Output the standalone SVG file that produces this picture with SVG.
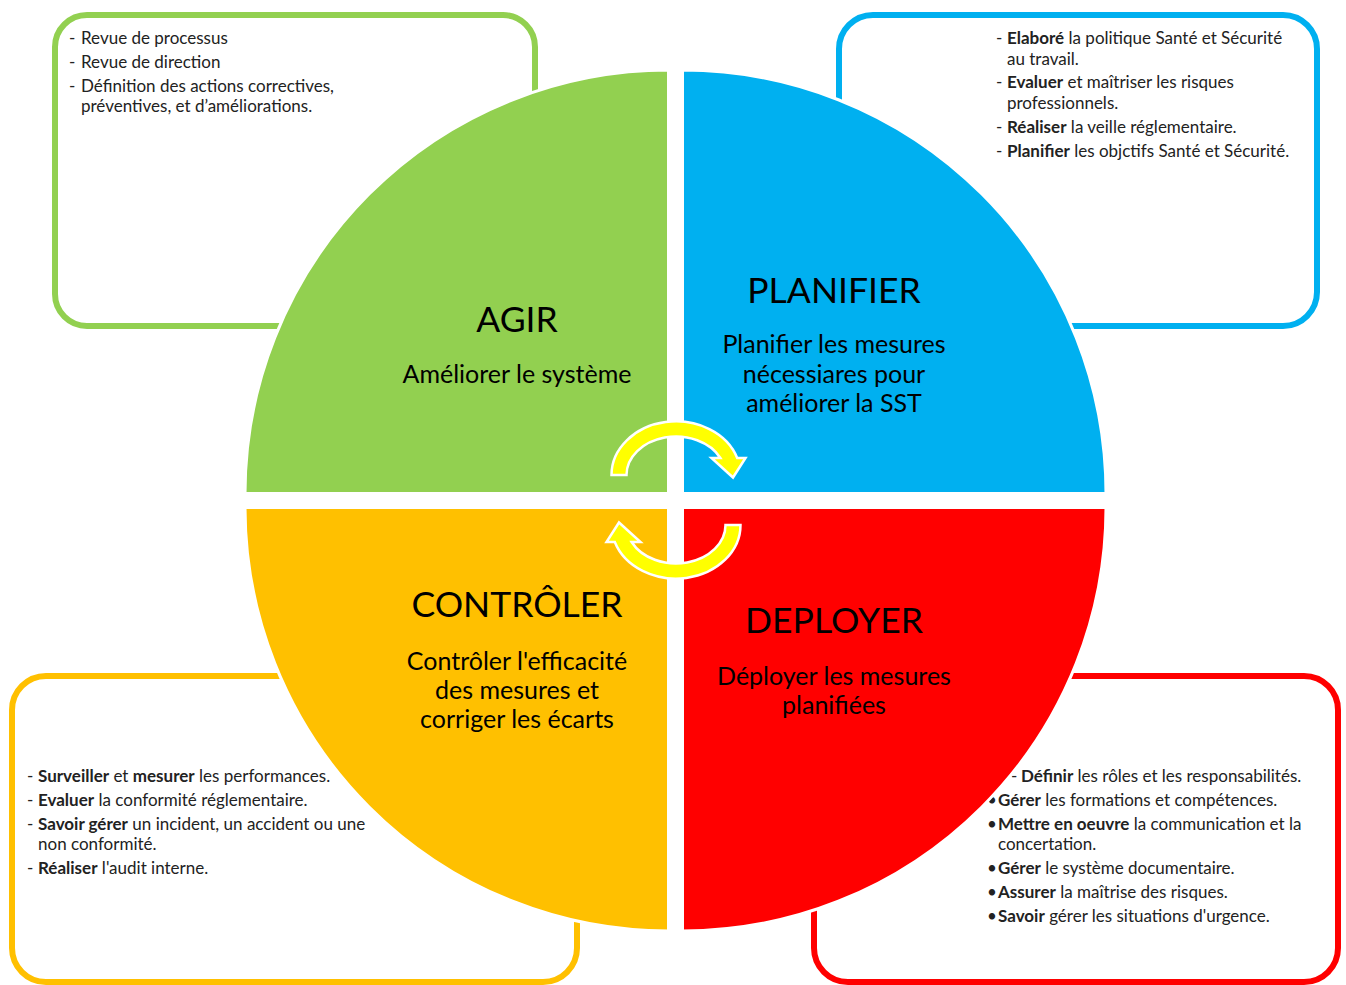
<svg xmlns="http://www.w3.org/2000/svg" width="1346" height="985" viewBox="0 0 1346 985">
<style>
.box{fill:#fff;stroke-width:6}
.bt{font-family:Lato,"Open Sans","Liberation Sans",sans-serif;font-size:17px;fill:#222}
.bt .b{font-weight:bold}
.q{stroke:#fff;stroke-width:3}
.title{font-family:Lato,"Open Sans","Liberation Sans",sans-serif;font-size:35.5px;fill:#000;text-anchor:middle}
.sub{font-family:Lato,"Open Sans","Liberation Sans",sans-serif;font-size:25px;fill:#000;text-anchor:middle}
.arr{fill:#FFFF00;stroke:#fff;stroke-width:2.5;stroke-linejoin:miter}
</style>
<rect width="1346" height="985" fill="#fff"/>

<g id="box-agir">
<rect class="box" x="55" y="15" width="480" height="311" rx="32" stroke="#92D050"/>
<text class="bt"><tspan x="69" y="44">-</tspan><tspan x="81" y="44">Revue de processus</tspan></text>
<text class="bt"><tspan x="69" y="68">-</tspan><tspan x="81" y="68">Revue de direction</tspan></text>
<text class="bt"><tspan x="69" y="92">-</tspan><tspan x="81" y="92">Définition des actions correctives,</tspan><tspan x="81" y="112">préventives, et d’améliorations.</tspan></text>
</g>

<g id="box-planifier">
<rect class="box" x="839" y="15" width="478" height="311" rx="34" stroke="#00B0F0"/>
<text class="bt"><tspan x="996" y="44">-</tspan><tspan x="1007" y="44"><tspan class="b">Elaboré</tspan> la politique Santé et Sécurité</tspan><tspan x="1007" y="65">au travail.</tspan></text>
<text class="bt"><tspan x="996" y="88">-</tspan><tspan x="1007" y="88"><tspan class="b">Evaluer</tspan> et maîtriser les risques</tspan><tspan x="1007" y="109">professionnels.</tspan></text>
<text class="bt"><tspan x="996" y="133">-</tspan><tspan x="1007" y="133"><tspan class="b">Réaliser</tspan> la veille réglementaire.</tspan></text>
<text class="bt"><tspan x="996" y="157">-</tspan><tspan x="1007" y="157"><tspan class="b">Planifier</tspan> les objctifs Santé et Sécurité.</tspan></text>
</g>

<g id="box-controler">
<rect class="box" x="12" y="676" width="565" height="306" rx="34" stroke="#FFC000"/>
<text class="bt"><tspan x="27" y="782">-</tspan><tspan x="38" y="782"><tspan class="b">Surveiller</tspan> et <tspan class="b">mesurer</tspan> les performances.</tspan></text>
<text class="bt"><tspan x="27" y="806">-</tspan><tspan x="38" y="806"><tspan class="b">Evaluer</tspan> la conformité réglementaire.</tspan></text>
<text class="bt"><tspan x="27" y="830">-</tspan><tspan x="38" y="830"><tspan class="b">Savoir gérer</tspan> un incident, un accident ou une</tspan><tspan x="38" y="850">non conformité.</tspan></text>
<text class="bt"><tspan x="27" y="874">-</tspan><tspan x="38" y="874"><tspan class="b">Réaliser</tspan> l'audit interne.</tspan></text>
</g>

<g id="box-deployer">
<rect class="box" x="814" y="676" width="524" height="306" rx="34" stroke="#FF0000"/>
<text class="bt"><tspan x="1011" y="782">-</tspan><tspan x="1021" y="782"><tspan class="b">Définir</tspan> les rôles et les responsabilités.</tspan></text>
<text class="bt"><tspan x="987" y="806">•</tspan><tspan x="998" y="806"><tspan class="b">Gérer</tspan> les formations et compétences.</tspan></text>
<text class="bt"><tspan x="987" y="830">•</tspan><tspan x="998" y="830"><tspan class="b">Mettre en oeuvre</tspan> la communication et la</tspan><tspan x="998" y="850">concertation.</tspan></text>
<text class="bt"><tspan x="987" y="874">•</tspan><tspan x="998" y="874"><tspan class="b">Gérer</tspan> le système documentaire.</tspan></text>
<text class="bt"><tspan x="987" y="898">•</tspan><tspan x="998" y="898"><tspan class="b">Assurer</tspan> la maîtrise des risques.</tspan></text>
<text class="bt"><tspan x="987" y="922">•</tspan><tspan x="998" y="922"><tspan class="b">Savoir</tspan> gérer les situations d'urgence.</tspan></text>
</g>

<g id="agir">
<path class="q" fill="#92D050" d="M668.5 493.5 L245 493.5 A423.5 423.5 0 0 1 668.5 70 Z"/>
<text class="title" x="517" y="332">AGIR</text>
<text class="sub" x="517" y="383">Améliorer le système</text>
</g>
<g id="planifier">
<path class="q" fill="#00B0F0" d="M682.5 493.5 L682.5 70 A423.5 423.5 0 0 1 1106 493.5 Z"/>
<text class="title" x="834" y="303">PLANIFIER</text>
<text class="sub" x="834" y="353">Planifier les mesures</text>
<text class="sub" x="834" y="383">nécessiares pour</text>
<text class="sub" x="834" y="412">améliorer la SST</text>
</g>
<g id="controler">
<path class="q" fill="#FFC000" d="M668.5 507.5 L668.5 931 A423.5 423.5 0 0 1 245 507.5 Z"/>
<text class="title" x="517" y="617">CONTRÔLER</text>
<text class="sub" x="517" y="670">Contrôler l'efficacité</text>
<text class="sub" x="517" y="699">des mesures et</text>
<text class="sub" x="517" y="728">corriger les écarts</text>
</g>
<g id="deployer">
<path class="q" fill="#FF0000" d="M682.5 507.5 L1106 507.5 A423.5 423.5 0 0 1 682.5 931 Z"/>
<text class="title" x="834" y="633">DEPLOYER</text>
<text class="sub" x="834" y="685">Déployer les mesures</text>
<text class="sub" x="834" y="714">planifiées</text>
</g>

<g id="connectors">
<path id="cyc1" class="arr" d="M611.5 475 A64.5 53.5 0 0 1 737.2 458 L745.5 458 L733 477.5 L711.5 458 L720.4 458 A49.5 38.5 0 0 0 626.5 475 Z"/>
<path id="cyc2" class="arr" transform="rotate(180 676 500)" d="M611.5 475 A64.5 53.5 0 0 1 737.2 458 L745.5 458 L733 477.5 L711.5 458 L720.4 458 A49.5 38.5 0 0 0 626.5 475 Z"/>
</g>
</svg>
